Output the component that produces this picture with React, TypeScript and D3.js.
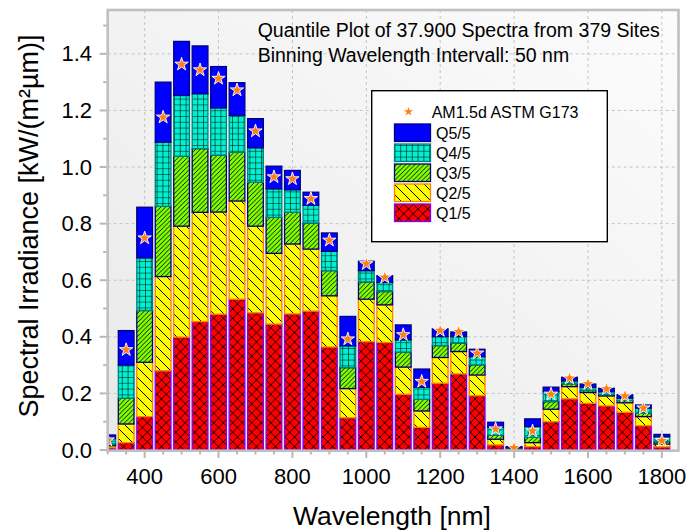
import React from "react";
import * as d3 from "d3";

const wavelengths = [300, 350, 400, 450, 500, 550, 600, 650, 700, 750, 800, 850, 900, 950, 1000, 1050, 1100, 1150, 1200, 1250, 1300, 1350, 1400, 1450, 1500, 1550, 1600, 1650, 1700, 1750, 1800];
// cumulative quantile tops (kW/(m²µm))
const q1Top = [0.008, 0.026, 0.118, 0.280, 0.399, 0.454, 0.480, 0.533, 0.485, 0.445, 0.481, 0.491, 0.364, 0.114, 0.383, 0.380, 0.197, 0.080, 0.236, 0.269, 0.192, 0.018, 0.003, 0.012, 0.100, 0.181, 0.165, 0.156, 0.133, 0.086, 0.011];
const q2Top = [0.015, 0.092, 0.310, 0.613, 0.791, 0.840, 0.841, 0.880, 0.791, 0.695, 0.728, 0.710, 0.545, 0.217, 0.533, 0.513, 0.293, 0.138, 0.327, 0.348, 0.265, 0.038, 0.005, 0.026, 0.144, 0.224, 0.203, 0.191, 0.167, 0.118, 0.021];
const q3Top = [0.022, 0.183, 0.493, 0.861, 1.038, 1.065, 1.042, 1.052, 0.946, 0.822, 0.840, 0.802, 0.634, 0.291, 0.594, 0.560, 0.346, 0.179, 0.369, 0.378, 0.301, 0.053, 0.007, 0.045, 0.171, 0.234, 0.210, 0.197, 0.175, 0.130, 0.029];
const q4Top = [0.040, 0.300, 0.679, 1.088, 1.253, 1.259, 1.209, 1.183, 1.068, 0.923, 0.920, 0.865, 0.702, 0.368, 0.634, 0.592, 0.389, 0.222, 0.401, 0.401, 0.330, 0.080, 0.009, 0.083, 0.206, 0.244, 0.222, 0.206, 0.183, 0.148, 0.047];
const q5Top = [0.053, 0.422, 0.858, 1.300, 1.444, 1.428, 1.355, 1.298, 1.171, 1.003, 0.988, 0.911, 0.767, 0.472, 0.667, 0.616, 0.442, 0.286, 0.428, 0.417, 0.356, 0.098, 0.012, 0.110, 0.222, 0.257, 0.233, 0.218, 0.195, 0.159, 0.055];
const am15d = [0.035, 0.354, 0.749, 1.176, 1.363, 1.343, 1.313, 1.272, 1.127, 0.965, 0.958, 0.888, 0.741, 0.392, 0.658, 0.610, 0.407, 0.242, 0.422, 0.418, 0.342, 0.074, 0.008, 0.067, 0.197, 0.254, 0.234, 0.216, 0.191, 0.148, 0.033];

const xTicks = [400, 600, 800, 1000, 1200, 1400, 1600, 1800];
const yTicks = [0.0, 0.2, 0.4, 0.6, 0.8, 1.0, 1.2, 1.4];
const legendLabels = ["Q5/5", "Q4/5", "Q3/5", "Q2/5", "Q1/5"];
const titleLines = ["Quantile Plot of 37.900 Spectra from 379 Sites", "Binning Wavelength Intervall: 50 nm"];

const FONT = "'Liberation Sans', Arial, Helvetica, sans-serif";

const L = 107.7, R = 678.5, T = 10, B = 450;

export default function App() {
  const x = d3.scaleLinear().domain([300, 1845]).range([L, R]);
  const y = d3.scaleLinear().domain([0, 1.555]).range([B, T]);
  const halfW = 21.25;

  const quantStyles = [
    { fill: "url(#pQ1)", stroke: "#8000ff" },
    { fill: "url(#pQ2)", stroke: "#ff8000" },
    { fill: "url(#pQ3)", stroke: "#000080" },
    { fill: "url(#pQ4)", stroke: "#008080" },
    { fill: "#0000ff", stroke: "#000080" },
  ];
  const tops = [q1Top, q2Top, q3Top, q4Top, q5Top];

  const star = d3.symbol().type(d3.symbolStar).size(55)();
  const starSmall = d3.symbol().type(d3.symbolStar).size(26)();

  const minorX = d3.range(300, 1850, 50);
  const minorY = d3.range(0, 1.56, 0.1);

  const legendStyles = [
    { fill: "#0000ff", stroke: "#000080" },
    { fill: "url(#lQ4)", stroke: "#008080" },
    { fill: "url(#lQ3)", stroke: "#000080" },
    { fill: "url(#lQ2)", stroke: "#ff8000" },
    { fill: "url(#lQ1)", stroke: "#8000ff" },
  ];

  const patterns = (prefix: string) => (
    <>
      <pattern id={`${prefix}Q4`} patternUnits="userSpaceOnUse" width={5.8} height={5.8}>
        <rect width={5.8} height={5.8} fill="#00f0d0" />
        <path d="M0,0H5.8M0,0V5.8" stroke="#000" strokeWidth={1.1} />
      </pattern>
      <pattern id={`${prefix}Q3`} patternUnits="userSpaceOnUse" width={4.6} height={4.6}>
        <rect width={4.6} height={4.6} fill="#80ff00" />
        <path d="M0,4.6L4.6,0M-1,1L1,-1M3.6,5.6L5.6,3.6" stroke="#000" strokeWidth={0.9} />
      </pattern>
      <pattern id={`${prefix}Q2`} patternUnits="userSpaceOnUse" width={10} height={10}>
        <rect width={10} height={10} fill="#ffff00" />
        <path d="M0,0L10,10M-1,9L1,11M9,-1L11,1" stroke="#000" strokeWidth={1} />
      </pattern>
      <pattern id={`${prefix}Q1`} patternUnits="userSpaceOnUse" width={9.5} height={9.5}>
        <rect width={9.5} height={9.5} fill="#ff0000" />
        <path d="M0,0L9.5,9.5M0,9.5L9.5,0" stroke="#000" strokeWidth={0.9} />
      </pattern>
    </>
  );

  const legX = 371.7, legY = 90.7, legW = 235.6, legH = 151;

  return (
    <svg width={689} height={531} style={{ position: "absolute", left: 0, top: 0, fontFamily: FONT }}>
      <defs>
        <linearGradient id="bg" x1="0" y1="1" x2="1" y2="0">
          <stop offset="0" stopColor="#e9e9e9" />
          <stop offset="1" stopColor="#fcfcfc" />
        </linearGradient>
        {patterns("p")}
        {patterns("l")}
        <clipPath id="plotClip">
          <rect x={L} y={T} width={R - L} height={B - T + 1} />
        </clipPath>
      </defs>
      <rect width={689} height={531} fill="#ffffff" />
      <rect x={L} y={T} width={R - L} height={B - T} fill="url(#bg)" />

      {/* grid */}
      <g stroke="#c4c4c4" strokeWidth={1} strokeDasharray="3,3">
        {xTicks.map((t) => (
          <line key={"gx" + t} x1={x(t)} x2={x(t)} y1={T} y2={B} />
        ))}
        {yTicks.slice(1).map((t) => (
          <line key={"gy" + t} x1={L} x2={R} y1={y(t)} y2={y(t)} />
        ))}
      </g>

      {/* bars */}
      <g clipPath="url(#plotClip)">
        {wavelengths.map((w, i) => {
          const x0 = x(w - halfW);
          const bw = x(w + halfW) - x0;
          return (
            <g key={"b" + w}>
              {tops.map((arr, k) => {
                const lo = k === 0 ? 0 : tops[k - 1][i];
                const hi = arr[i];
                if (hi - lo <= 0) return null;
                return (
                  <rect
                    key={k}
                    x={x0}
                    y={y(hi)}
                    width={bw}
                    height={y(lo) - y(hi)}
                    fill={quantStyles[k].fill}
                    stroke={quantStyles[k].stroke}
                    strokeWidth={1.3}
                  />
                );
              })}
            </g>
          );
        })}
        {wavelengths.map((w, i) => (
          <path
            key={"s" + w}
            d={star}
            transform={`translate(${x(w)},${y(am15d[i])})`}
            fill="#ff8010"
            stroke="#ffffff"
            strokeWidth={0.9}
          />
        ))}
      </g>

      {/* frame */}
      <rect x={L} y={T} width={R - L} height={B - T + 0.7} fill="none" stroke="#c0c0c0" strokeWidth={2.6} />

      {/* ticks */}
      <g stroke="#b8b8b8" strokeWidth={2}>
        {minorX.map((t) => {
          const major = xTicks.includes(t);
          return <line key={"tx" + t} x1={x(t)} x2={x(t)} y1={B + 1} y2={B + (major ? 8 : 4.5)} />;
        })}
        {minorY.map((t, k) => {
          const major = k % 2 === 0;
          return <line key={"ty" + k} x1={L - 1} x2={L - (major ? 8 : 4.5)} y1={y(t)} y2={y(t)} />;
        })}
      </g>
      <g fontSize={22} fill="#000">
        {xTicks.map((t) => (
          <text key={"lx" + t} x={x(t)} y={484} textAnchor="middle">
            {t}
          </text>
        ))}
        {yTicks.map((t) => (
          <text key={"ly" + t} x={92} y={y(t)} textAnchor="end" dominantBaseline="central">
            {t.toFixed(1)}
          </text>
        ))}
      </g>

      {/* axis titles */}
      <text x={392} y={525} textAnchor="middle" fontSize={26.5}>
        Wavelength [nm]
      </text>
      <text transform={`translate(38,226) rotate(-90)`} textAnchor="middle" fontSize={27}>
        Spectral Irradiance [kW/(m²µm)]
      </text>

      {/* title */}
      <g fontSize={19.5}>
        {titleLines.map((s, k) => (
          <text key={"t" + k} x={257.7} y={37.3 + k * 24.4}>
            {s}
          </text>
        ))}
      </g>

      {/* legend */}
      <rect x={legX} y={legY} width={legW} height={legH} fill="#ffffff" stroke="#000" strokeWidth={1.4} />
      <path d={starSmall} transform={`translate(408.5,111.7)`} fill="#ff8010" />
      <text x={431.7} y={117.5} fontSize={16}>
        AM1.5d ASTM G173
      </text>
      {legendLabels.map((lab, k) => (
        <g key={"lg" + k}>
          <rect
            x={394.5}
            y={124 + k * 20}
            width={36}
            height={17.5}
            fill={legendStyles[k].fill}
            stroke={legendStyles[k].stroke}
            strokeWidth={1.3}
          />
          <text x={436} y={139 + k * 20} fontSize={16}>
            {lab}
          </text>
        </g>
      ))}
    </svg>
  );
}
